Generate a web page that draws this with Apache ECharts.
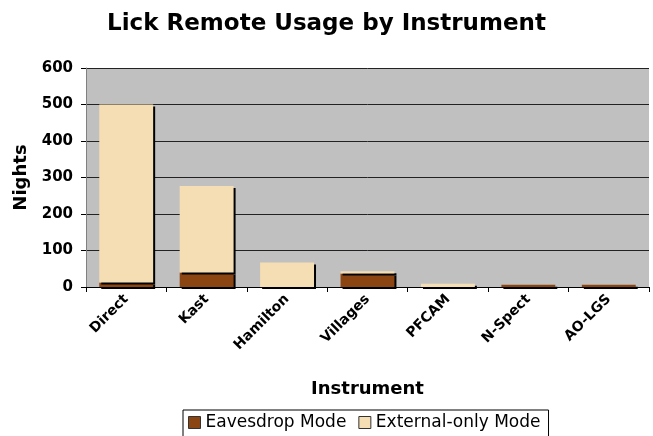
<!DOCTYPE html>
<html>
<head>
<meta charset="utf-8">
<script src="https://cdn.jsdelivr.net/npm/echarts@6/dist/echarts.min.js"></script>
<style>
  html, body { margin: 0; padding: 0; background: #fff; }
  #main { width: 653px; height: 436px; }
</style>
</head>
<body>
<div id="main"></div>
<script>
// instruments along the x axis
var instruments = ['Direct', 'Kast', 'Hamilton', 'Villages', 'PFCAM', 'N-Spect', 'AO-LGS'];
// nights
var eavesdrop = [12, 40, 0, 37, 0, 6, 6];
var externalOnly = [488, 237, 67, 6, 9, 0, 0];

var font = 'Verdana, "DejaVu Sans", sans-serif';
var chart = echarts.init(document.getElementById('main'));

var barStyle = function (color) {
  return {
    color: color,
    borderWidth: 0,
    shadowColor: '#000',
    shadowOffsetX: 2,
    shadowOffsetY: 2,
    shadowBlur: 0
  };
};

chart.setOption({
  animation: false,
  title: {
    text: 'Lick Remote Usage by Instrument',
    left: 'center',
    top: 8,
    textStyle: { fontFamily: font, fontWeight: 'bold', fontSize: 23, color: '#000' }
  },
  legend: {
    top: 410,
    left: 183,
    itemWidth: 12,
    itemHeight: 12,
    itemGap: 12,
    padding: [4, 8, 8, 5],
    borderColor: '#000',
    borderWidth: 1,
    icon: 'rect',
    itemStyle: { borderColor: '#333', borderWidth: 1, shadowColor: 'transparent' },
    textStyle: { fontFamily: font, fontSize: 17, color: '#000', padding: [0, 0, 0, 0] },
    data: ['Eavesdrop Mode', 'External-only Mode']
  },
  grid: {
    left: 86, right: 4, top: 68, bottom: 149,
    show: true,
    backgroundColor: '#c0c0c0',
    borderWidth: 0
  },
  xAxis: {
    type: 'category',
    data: instruments,
    name: 'Instrument',
    nameLocation: 'middle',
    nameGap: 93,
    nameTextStyle: { fontFamily: font, fontWeight: 'bold', fontSize: 18, color: '#000' },
    axisLine: { lineStyle: { color: '#000' } },
    axisTick: { show: true, length: 5, lineStyle: { color: '#000' } },
    axisLabel: {
      rotate: 45,
      interval: 0,
      margin: 10,
      fontFamily: font,
      fontWeight: 'bold',
      fontSize: 14,
      color: '#000'
    }
  },
  yAxis: {
    type: 'value',
    min: 0,
    max: 600,
    interval: 100,
    name: 'Nights',
    nameLocation: 'middle',
    nameGap: 55,
    nameTextStyle: { fontFamily: font, fontWeight: 'bold', fontSize: 18, color: '#000' },
    axisLine: { show: true, lineStyle: { color: '#808080' } },
    axisTick: { show: true, length: 5, lineStyle: { color: '#000' } },
    axisLabel: { fontFamily: font, fontWeight: 'bold', fontSize: 15, color: '#000', margin: 13 },
    splitLine: { lineStyle: { color: '#222', width: 1 } }
  },
  series: [
    {
      name: 'Eavesdrop Mode',
      type: 'bar',
      stack: 'total',
      barCategoryGap: '33%',
      itemStyle: barStyle('#8b4513'),
      data: eavesdrop
    },
    {
      name: 'External-only Mode',
      type: 'bar',
      stack: 'total',
      barCategoryGap: '33%',
      itemStyle: barStyle('#f5deb3'),
      data: externalOnly
    }
  ]
});
</script>
</body>
</html>
